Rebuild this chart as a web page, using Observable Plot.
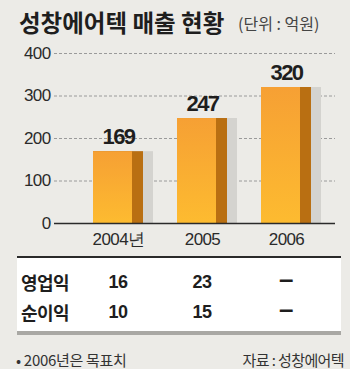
<!DOCTYPE html>
<html><head><meta charset="utf-8">
<script src="https://cdn.jsdelivr.net/npm/d3@7"></script>
<script src="https://cdn.jsdelivr.net/npm/@observablehq/plot@0.6"></script>
<style>
html,body{margin:0;padding:0;background:#ecebe7;}
#wrap{position:relative;width:350px;height:369px;background:#ecebe7;overflow:hidden;font-family:"Noto Sans CJK KR","Noto Sans",sans-serif;color:#222;}
.abs{position:absolute;white-space:nowrap;}
#title{left:19px;top:6px;font-size:23.5px;line-height:32px;font-weight:bold;color:#1e1e1e;letter-spacing:0px;}
#unit{left:238px;top:12px;font-size:16px;line-height:22px;color:#444;letter-spacing:0px;}
#chart{position:absolute;left:0;top:40px;}
#table{position:absolute;left:17px;top:256px;width:324px;height:73px;background:#fff;border-top:2px solid #2a2a2a;border-bottom:4px solid #a9a8a4;}
.lab{font-size:18px;font-weight:bold;line-height:24px;letter-spacing:-0.6px;color:#1e1e1e;}
.val{font-family:"Liberation Sans",Arial,sans-serif;font-size:18px;font-weight:bold;line-height:24px;letter-spacing:-0.5px;color:#1e1e1e;transform:translateX(-50%);}
.val.dash{font-size:26px;}
.note{font-size:15px;line-height:20px;color:#333;letter-spacing:-0.3px;}
.num text{font-family:"Liberation Sans",Arial,sans-serif;}
g[aria-label="text"] text{letter-spacing:-1.5px;}
</style></head><body><div id="wrap">
<div id="title" class="abs">성창에어텍 매출 현황</div>
<div id="unit" class="abs">(단위 : 억원)</div>
<div id="chart"></div>
<div id="table"></div>
<div class="abs note" style="left:16px;top:350px;">• 2006년은 목표치</div>
<div class="abs note" style="right:6px;top:350px;letter-spacing:-0.6px;">자료 : 성창에어텍</div>
</div>
<script>
const years = ["2004", "2005", "2006"];
const yearLabels = ["2004년", "2005", "2006"];
const sales = [169, 247, 320];
const yTicks = [0, 100, 200, 300, 400];
const rowLabels = ["영업익", "순이익"];
const opProfit = ["16", "23", "–"];
const netProfit = ["10", "15", "–"];

const data = years.map((y, i) => ({year: y, sales: sales[i]}));

const plot = Plot.plot({
  width: 350, height: 215,
  marginTop: 13, marginBottom: 32, marginLeft: 54, marginRight: 15,
  className: "num",
  style: {background: "transparent", color: "#2a2a2a", overflow: "visible"},
  x: {domain: years, paddingInner: 0.405, paddingOuter: 0.375, align: 0.62, label: null},
  y: {domain: [0, 400], label: null},
  marks: [
    Plot.ruleY(yTicks.filter(d => d > 0), {stroke: "#9a9a9a", strokeDasharray: "3,2", strokeWidth: 1}),
    Plot.barY(data, {x: "year", y: "sales", fill: "#d4d3cf", dx: 10}),
    Plot.barY(data, {x: "year", y: "sales", fill: "#b96f12"}),
    Plot.barY(data, {x: "year", y: "sales", fill: "url(#og)", insetRight: 11}),
    Plot.ruleY([0], {stroke: "#2a2a2a", strokeWidth: 1.5}),
    Plot.axisY({ticks: yTicks, tickSize: 0, tickPadding: 4, fontSize: 17, label: null}),
    Plot.axisX({tickSize: 0, tickPadding: 9, fontSize: 17, label: null,
      tickFormat: d => yearLabels[years.indexOf(d)]}),
    Plot.text(data, {x: "year", y: "sales", text: d => String(d.sales), dy: -8,
      lineAnchor: "bottom", fontSize: 22, fontWeight: "bold", fill: "#1e1e1e"})
  ]
});
d3.select(plot).insert("defs", ":first-child").html(
  '<linearGradient id="og" x1="0" y1="0" x2="0" y2="1">' +
  '<stop offset="0" stop-color="#f6a034"/><stop offset="1" stop-color="#fdbb30"/></linearGradient>');
d3.select(plot).selectAll('g[aria-label="x-axis tick label"] text, g[aria-label="y-axis tick label"] text')
  .style("letter-spacing", "-0.6px");
document.getElementById("chart").appendChild(plot);

const xs = plot.scale("x");
const centers = years.map(y => xs.apply(y) + xs.bandwidth / 2);
const table = document.getElementById("table");
const rows = [opProfit, netProfit];
const rowTops = [12, 42];
rows.forEach((vals, r) => {
  const lab = document.createElement("div");
  lab.className = "abs lab";
  lab.style.left = "4px"; lab.style.top = rowTops[r] + "px";
  lab.textContent = rowLabels[r];
  table.appendChild(lab);
  vals.forEach((v, i) => {
    const el = document.createElement("div");
    el.className = "abs val" + (v === "–" ? " dash" : "");
    el.style.left = (centers[i] - 17) + "px";
    el.style.top = (rowTops[r] + (v === "–" ? -3 : 0)) + "px";
    el.textContent = v;
    table.appendChild(el);
  });
});
</script>
</body></html>
